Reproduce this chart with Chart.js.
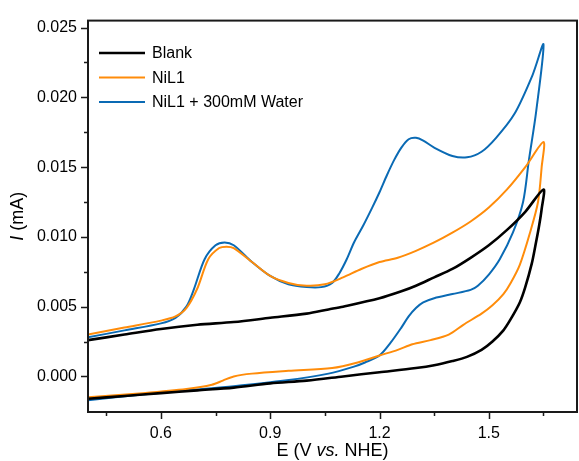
<!DOCTYPE html>
<html>
<head>
<meta charset="utf-8">
<script src="https://cdn.jsdelivr.net/npm/chart.js@4.4.1/dist/chart.umd.min.js"></script>
<style>
  html, body { margin: 0; padding: 0; background: #fff; }
  #wrap { width: 579px; height: 461px; }
</style>
</head>
<body>
<div id="wrap"><canvas id="cv"></canvas></div>
<script>
// cyclic voltammograms: forward scan then reverse scan, E in V, I in mA
const blankE = [0.40, 0.50, 0.60, 0.70, 0.80, 0.90, 1.00, 1.06, 1.10, 1.20, 1.26, 1.30, 1.35, 1.40, 1.45, 1.50, 1.55, 1.60, 1.65,
                1.645, 1.638, 1.628, 1.618, 1.60, 1.585, 1.56, 1.54, 1.51, 1.48, 1.44, 1.40, 1.35, 1.30, 1.20, 1.10, 1.00, 0.90, 0.80, 0.70, 0.60, 0.50, 0.40];
const blankI = [0.0026, 0.0030, 0.0034, 0.0037, 0.0039, 0.0042, 0.0045, 0.0048, 0.0050, 0.0056, 0.0061, 0.0065, 0.0071, 0.0077, 0.0085, 0.0094, 0.0105, 0.0118, 0.0134,
                0.0120, 0.0108, 0.0094, 0.0081, 0.0064, 0.0053, 0.0041, 0.0033, 0.0025, 0.0019, 0.0014, 0.0011, 0.0008, 0.0006, 0.0003, 0.0000, -0.0003, -0.0005, -0.0008, -0.0010, -0.0012, -0.0014, -0.0016];

const nil1E = [0.40, 0.50, 0.60, 0.64, 0.67, 0.70, 0.73, 0.76, 0.78, 0.80, 0.85, 0.90, 0.95, 1.00, 1.05, 1.10, 1.15, 1.20, 1.25, 1.30, 1.35, 1.40, 1.45, 1.50, 1.55, 1.60, 1.65,
               1.645, 1.635, 1.613, 1.585, 1.56, 1.54, 1.51, 1.48, 1.43, 1.39, 1.34, 1.29, 1.25, 1.20, 1.14, 1.07, 0.95, 0.85, 0.80, 0.77, 0.74, 0.67, 0.55, 0.40];
const nil1I = [0.0030, 0.0035, 0.0040, 0.0043, 0.0049, 0.0063, 0.0084, 0.0092, 0.0093, 0.0092, 0.0082, 0.0072, 0.0067, 0.0065, 0.0066, 0.0071, 0.0077, 0.0082, 0.0085, 0.0090, 0.0096, 0.0103, 0.0111, 0.0121, 0.0134, 0.0150, 0.0168,
               0.0150, 0.0125, 0.0103, 0.0080, 0.0067, 0.0059, 0.0051, 0.0045, 0.0037, 0.0030, 0.0026, 0.0023, 0.0019, 0.0015, 0.0010, 0.0006, 0.0004, 0.0002, 0.0000, -0.0003, -0.0006, -0.0009, -0.0012, -0.0015];

const waterE = [0.40, 0.50, 0.60, 0.64, 0.67, 0.69, 0.72, 0.75, 0.775, 0.80, 0.85, 0.90, 0.95, 1.00, 1.04, 1.07, 1.09, 1.11, 1.13, 1.155, 1.18, 1.20, 1.22, 1.24, 1.26, 1.28, 1.30, 1.32, 1.35, 1.40, 1.44, 1.48, 1.52, 1.57, 1.62, 1.65,
                1.63, 1.61, 1.594, 1.566, 1.53, 1.50, 1.47, 1.45, 1.40, 1.35, 1.32, 1.30, 1.28, 1.26, 1.23, 1.20, 1.16, 1.13, 1.06, 0.94, 0.80, 0.67, 0.55, 0.40];
const waterI = [0.0028, 0.0033, 0.0038, 0.0042, 0.0050, 0.0062, 0.0084, 0.0094, 0.0096, 0.0094, 0.0082, 0.0072, 0.0066, 0.0064, 0.0064, 0.0067, 0.0074, 0.0084, 0.0096, 0.0108, 0.0121, 0.0132, 0.0144, 0.0155, 0.0164, 0.0170, 0.0171, 0.0169, 0.0164, 0.0158, 0.0157, 0.0161, 0.0171, 0.0188, 0.0216, 0.0238,
                0.0190, 0.0155, 0.0125, 0.0103, 0.0084, 0.0073, 0.0065, 0.0062, 0.0059, 0.0056, 0.0053, 0.0049, 0.0043, 0.0035, 0.0024, 0.0015, 0.0010, 0.0007, 0.0002, -0.0003, -0.0007, -0.0010, -0.0013, -0.0017];

const seriesNames = ['Blank', 'NiL1', 'NiL1 + 300mM Water'];
const xTickValues = [0.6, 0.9, 1.2, 1.5];
const xMinorValues = [0.45, 0.75, 1.05, 1.35, 1.65];
const yTickValues = [0.000, 0.005, 0.010, 0.015, 0.020, 0.025];
const yMinorValues = [0.0025, 0.0075, 0.0125, 0.0175, 0.0225];

const FONT = "'Liberation Sans', Arial, sans-serif";
const pts = (xs, ys) => xs.map((x, i) => ({x: x, y: ys[i]}));

// box frame, outward ticks, axis titles with italic parts, inside legend
const decor = {
  id: 'decor',
  afterDatasetsDraw(chart) {
    const {ctx, chartArea: a, scales: {x, y}} = chart;
    ctx.save();
    ctx.strokeStyle = '#1a1a1a';
    ctx.lineWidth = 2;
    ctx.strokeRect(a.left, a.top, a.right - a.left, a.bottom - a.top);

    ctx.lineWidth = 1.5;
    ctx.beginPath();
    xTickValues.forEach(v => { const px = Math.round(x.getPixelForValue(v)) + 0.5; ctx.moveTo(px, a.bottom); ctx.lineTo(px, a.bottom + 7); });
    xMinorValues.forEach(v => { const px = Math.round(x.getPixelForValue(v)) + 0.5; ctx.moveTo(px, a.bottom); ctx.lineTo(px, a.bottom + 4); });
    yTickValues.forEach(v => { const py = Math.round(y.getPixelForValue(v)) + 0.5; ctx.moveTo(a.left, py); ctx.lineTo(a.left - 7, py); });
    yMinorValues.forEach(v => { const py = Math.round(y.getPixelForValue(v)) + 0.5; ctx.moveTo(a.left, py); ctx.lineTo(a.left - 4, py); });
    ctx.stroke();

    // legend
    ctx.textBaseline = 'middle';
    ctx.textAlign = 'left';
    ctx.font = '16px ' + FONT;
    chart.data.datasets.forEach((ds, i) => {
      const cy = 53 + i * 24.5;
      ctx.strokeStyle = ds.borderColor;
      ctx.lineWidth = ds.borderWidth;
      ctx.beginPath();
      ctx.moveTo(99, cy);
      ctx.lineTo(145, cy);
      ctx.stroke();
      ctx.fillStyle = '#000';
      ctx.fillText(ds.label, 152, cy + 1);
    });

    // x title: E (V vs. NHE)
    const parts = [['E (V ', ''], ['vs.', 'italic '], [' NHE)', '']];
    const sz = 18;
    let total = 0;
    parts.forEach(p => { ctx.font = p[1] + sz + 'px ' + FONT; total += ctx.measureText(p[0]).width; });
    let cx = (a.left + a.right) / 2 - total / 2;
    ctx.fillStyle = '#000';
    parts.forEach(p => { ctx.font = p[1] + sz + 'px ' + FONT; ctx.fillText(p[0], cx, 451); cx += ctx.measureText(p[0]).width; });

    // y title: I (mA)
    const yparts = [['I', 'italic '], [' (mA)', '']];
    ctx.translate(18, (a.top + a.bottom) / 2);
    ctx.rotate(-Math.PI / 2);
    total = 0;
    yparts.forEach(p => { ctx.font = p[1] + sz + 'px ' + FONT; total += ctx.measureText(p[0]).width; });
    cx = -total / 2;
    yparts.forEach(p => { ctx.font = p[1] + sz + 'px ' + FONT; ctx.fillText(p[0], cx, 0); cx += ctx.measureText(p[0]).width; });
    ctx.restore();
  }
};

new Chart(document.getElementById('cv'), {
  type: 'scatter',
  data: {
    datasets: [{
      label: seriesNames[0],
      data: pts(blankE, blankI),
      borderColor: '#000000',
      backgroundColor: '#000000',
      borderWidth: 2.6,
    }, {
      label: seriesNames[1],
      data: pts(nil1E, nil1I),
      borderColor: '#ff8c0a',
      backgroundColor: '#ff8c0a',
      borderWidth: 2,
    }, {
      label: seriesNames[2],
      data: pts(waterE, waterI),
      borderColor: '#0a6ab4',
      backgroundColor: '#0a6ab4',
      borderWidth: 2,
    }]
  },
  options: {
    responsive: true,
    maintainAspectRatio: false,
    animation: false,
    showLine: true,
    datasets: { scatter: { pointRadius: 0, tension: 0.3, fill: false } },
    layout: { padding: { top: 16, right: 2, left: 0, bottom: 0 } },
    plugins: { legend: { display: false }, tooltip: { enabled: false } },
    scales: {
      x: {
        type: 'linear',
        min: 0.4,
        max: 1.742,
        afterFit: s => { s.height = 49; },
        afterBuildTicks: s => { s.ticks = xTickValues.map(v => ({value: v})); },
        grid: { display: false, drawTicks: false },
        border: { display: false },
        ticks: {
          padding: 12,
          color: '#000',
          font: { family: FONT, size: 16 },
          callback: v => v.toFixed(1)
        }
      },
      y: {
        type: 'linear',
        min: -0.00255,
        max: 0.0255,
        afterFit: s => { s.width = 88; },
        afterBuildTicks: s => { s.ticks = yTickValues.map(v => ({value: v})); },
        grid: { display: false, drawTicks: false },
        border: { display: false },
        ticks: {
          padding: 11,
          color: '#000',
          font: { family: FONT, size: 16 },
          callback: v => v.toFixed(3)
        }
      }
    }
  },
  plugins: [decor]
});
</script>
</body>
</html>
